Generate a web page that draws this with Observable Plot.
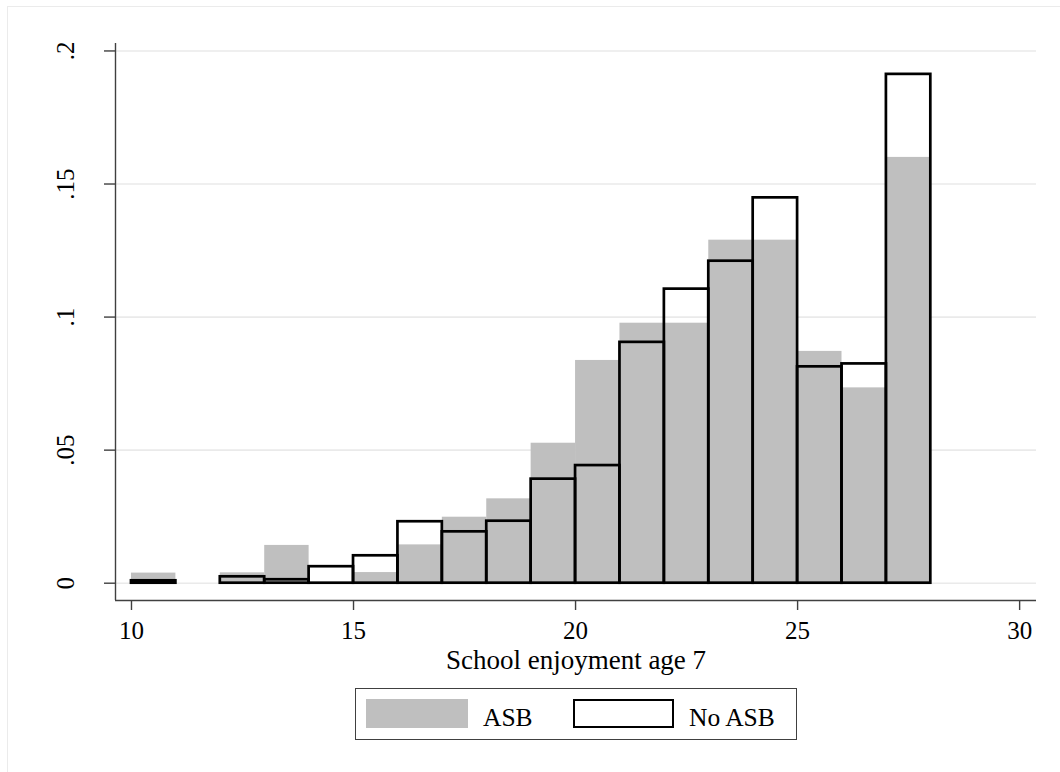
<!DOCTYPE html>
<html>
<head>
<meta charset="utf-8">
<script src="https://cdn.jsdelivr.net/npm/d3@7"></script>
<script src="https://cdn.jsdelivr.net/npm/@observablehq/plot@0.6"></script>
<style>
  html, body { margin: 0; padding: 0; background: #fff; }
  body { width: 1060px; height: 772px; overflow: hidden; position: relative; font-family: "Liberation Serif", "DejaVu Serif", serif; }
  #frame { position: absolute; left: 7px; top: 6px; width: 1200px; height: 1000px; border: 1.5px solid #ebebeb; }
  #chart { position: absolute; left: 0; top: 0; }
  #legend { position: absolute; left: 355px; top: 688px; width: 440px; height: 50px; border: 1px solid #404040; background: #fff; }
  #legend .sw { position: absolute; box-sizing: border-box; }
  #legend .lab { position: absolute; font-size: 25.5px; line-height: 25.5px; color: #000; white-space: nowrap; }
</style>
</head>
<body>
<div id="frame"></div>
<div id="chart"></div>
<div id="legend"></div>
<script>
// ---- data ----
const binStarts = [10, 11, 12, 13, 14, 15, 16, 17, 18, 19, 20, 21, 22, 23, 24, 25, 26, 27];
const asbValues = [0.0038, 0, 0.0039, 0.0142, 0, 0.0040, 0.0144, 0.0248, 0.0317, 0.0526, 0.0837, 0.0977, 0.0977, 0.1289, 0.1289, 0.0871, 0.0734, 0.1600];
const noAsbValues = [0.0009, 0, 0.0024, 0.0013, 0.0062, 0.0103, 0.0231, 0.0193, 0.0233, 0.0391, 0.0442, 0.0905, 0.1105, 0.1210, 0.1448, 0.0813, 0.0824, 0.1912];
const binWidth = 1;
const xTicks = [10, 15, 20, 25, 30];
const yTicks = [0, 0.05, 0.1, 0.15, 0.2];
const xTitle = "School enjoyment age 7";
const seriesNames = ["ASB", "No ASB"];
const xDomain = [9.64, 30.38];
const yDomain = [-0.0065, 0.2028];

const asbData = binStarts.map((b, i) => ({bin: b, value: asbValues[i]})).filter(d => d.value > 0);
const noAsbData = binStarts.map((b, i) => ({bin: b, value: noAsbValues[i]})).filter(d => d.value > 0);
const fmtY = d => d === 0 ? "0" : String(d).replace(/^0/, "");

const axisColor = "#404040";
const chart = Plot.plot({
  width: 1060,
  height: 680,
  marginLeft: 115,
  marginRight: 24,
  marginTop: 43,
  marginBottom: 80,
  style: {fontFamily: "Liberation Serif", fontSize: "25px", background: "transparent", color: "#000", overflow: "visible"},
  x: {domain: xDomain, axis: null},
  y: {domain: yDomain, axis: null},
  marks: [
    Plot.gridY(yTicks, {stroke: "#eaeaea", strokeOpacity: 1, strokeWidth: 1.6}),
    Plot.rect(asbData, {x1: d => d.bin, x2: d => d.bin + binWidth, y1: 0, y2: "value", fill: "#bfbfbf"}),
    Plot.rect(noAsbData, {x1: d => d.bin, x2: d => d.bin + binWidth, y1: 0, y2: "value", fill: "none", stroke: "#000", strokeWidth: 2.7}),
    Plot.ruleX([xDomain[0]], {y1: yDomain[0], y2: yDomain[1], stroke: axisColor, strokeWidth: 1.4}),
    Plot.ruleY([yDomain[0]], {x1: xDomain[0], x2: xDomain[1], stroke: axisColor, strokeWidth: 1.4}),
    Plot.axisX(xTicks, {anchor: "bottom", label: null, tickSize: 10, tickPadding: 11, stroke: axisColor, strokeWidth: 1.4, fontSize: 25, tickFormat: d => String(d)}),
    Plot.axisY(yTicks, {anchor: "left", label: null, tickSize: 11, stroke: axisColor, strokeWidth: 1.4, tickFormat: () => ""}),
    Plot.text(yTicks, {y: d => d, text: fmtY, frameAnchor: "left", dx: -50, rotate: -90, textAnchor: "middle", lineAnchor: "middle", fontSize: 25, fill: "#000"}),
    Plot.text([xTitle], {frameAnchor: "bottom", dy: 60, lineAnchor: "middle", textAnchor: "middle", fontSize: 27, fill: "#000"})
  ]
});
document.getElementById("chart").appendChild(chart);

// legend
const legend = document.getElementById("legend");
const items = [
  {name: seriesNames[0], sw: {left: 10, top: 10, width: 102, height: 29, background: "#bfbfbf"}, labLeft: 127},
  {name: seriesNames[1], sw: {left: 217, top: 10, width: 101, height: 29, border: "2.7px solid #000", background: "#fff"}, labLeft: 333}
];
for (const it of items) {
  const s = document.createElement("div");
  s.className = "sw";
  for (const k in it.sw) s.style[k] = typeof it.sw[k] === "number" ? it.sw[k] + "px" : it.sw[k];
  legend.appendChild(s);
  const l = document.createElement("span");
  l.className = "lab";
  l.style.left = it.labLeft + "px";
  l.style.top = "15.5px";
  l.textContent = it.name;
  legend.appendChild(l);
}
</script>
</body>
</html>
